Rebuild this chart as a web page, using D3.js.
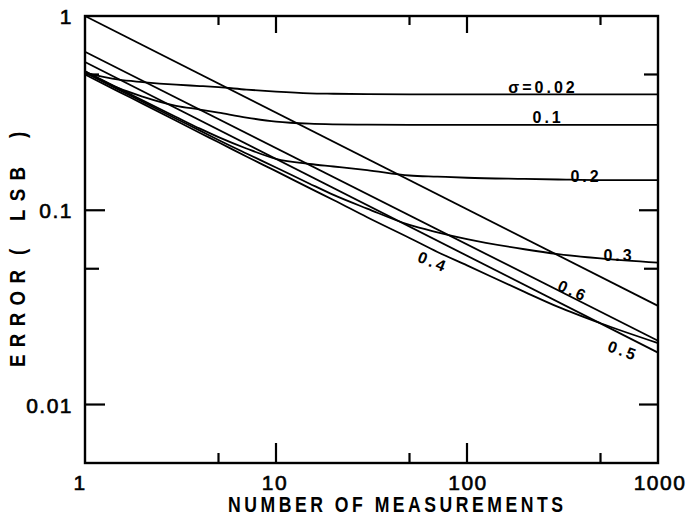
<!DOCTYPE html>
<html>
<head>
<meta charset="utf-8">
<script src="https://cdn.jsdelivr.net/npm/d3@7"></script>
<style>
  html, body { margin: 0; padding: 0; background: #fff; }
  svg { display: block; }
  text { font-family: "Liberation Sans", Arial, sans-serif; fill: #000; }
</style>
</head>
<body>
<svg id="chart" width="687" height="520"></svg>
<script>
// ---------- data ----------
const nPoints = [1, 1.5, 2, 3, 4, 5, 7, 10, 15, 20, 30, 50, 70, 100, 200, 300, 500, 1000];
const sigma002 = [0.51, 0.47, 0.457, 0.443, 0.436, 0.43, 0.418, 0.408, 0.400, 0.398, 0.396, 0.395, 0.395, 0.395, 0.395, 0.395, 0.395, 0.395];
const sigma01  = [0.52, 0.425, 0.385, 0.345, 0.330, 0.318, 0.300, 0.286, 0.279, 0.277, 0.276, 0.275, 0.275, 0.275, 0.275, 0.275, 0.275, 0.275];
const sigma02  = [0.52, 0.425, 0.368, 0.302, 0.263, 0.238, 0.208, 0.184, 0.173, 0.168, 0.161, 0.151, 0.149, 0.147, 0.145, 0.144, 0.143, 0.143];
const sigma03  = [0.51, 0.418, 0.362, 0.296, 0.257, 0.230, 0.196, 0.166, 0.137, 0.120, 0.102, 0.084, 0.077, 0.071, 0.063, 0.0595, 0.0565, 0.0537];
const sigma04  = [0.50, 0.408, 0.354, 0.289, 0.250, 0.224, 0.189, 0.159, 0.130, 0.113, 0.092, 0.072, 0.061, 0.052, 0.038, 0.0318, 0.0262, 0.0207];
// straight lines (endpoints at N = 1 and N = 1000)
const lineN    = [1, 1000];
const sigma05  = [0.58, 0.0185];
const sigma06  = [0.655, 0.0213];
const refLine  = [1.0, 0.0322];

const xTickMajor = [1, 10, 100, 1000];
const xTickMinor = [5, 50, 500];
const yTickMajor = [1, 0.1, 0.01];
const yTickMinor = [0.5, 0.05];
const xTickLabels = ["1", "10", "100", "1000"];
const yTickLabels = ["1", "0.1", "0.01"];

const curveLabels = ["σ=0.02", "0.1", "0.2", "0.3", "0.4", "0.5", "0.6"];
// label anchors in data units (N, error) and rotation
const labelN   = [250, 266, 420, 625, 66.4, 656, 359];
const labelV   = [0.431, 0.2985, 0.150, 0.0582, 0.0542, 0.0189, 0.0384];
const labelRot = [0, 0, 0, 0, 22, 20, 24];

// ---------- layout ----------
const svg = d3.select("#chart");
const x = d3.scaleLog().domain([1, 1000]).range([85, 658]);
const y = d3.scaleLog().domain([0.005, 1]).range([463, 16]);

const line = d3.line().x(d => x(d[0])).y(d => y(d[1])).curve(d3.curveMonotoneX);

const curves = [sigma002, sigma01, sigma02, sigma03, sigma04];
const g = svg.append("g");
curves.forEach(vals => {
  g.append("path")
    .attr("d", line(nPoints.map((n, i) => [n, vals[i]])))
    .attr("fill", "none").attr("stroke", "#000").attr("stroke-width", 1.8);
});
[sigma05, sigma06, refLine].forEach(vals => {
  g.append("path")
    .attr("d", line(lineN.map((n, i) => [n, vals[i]])))
    .attr("fill", "none").attr("stroke", "#000").attr("stroke-width", 1.8);
});

// frame
svg.append("rect")
  .attr("x", x(1)).attr("y", y(1))
  .attr("width", x(1000) - x(1)).attr("height", y(0.005) - y(1))
  .attr("fill", "none").attr("stroke", "#000").attr("stroke-width", 2.4);

// ticks (inward on all four sides)
const tk = svg.append("g").attr("stroke", "#000").attr("stroke-width", 2.2);
xTickMajor.slice(1, 3).forEach(v => {
  tk.append("line").attr("x1", x(v)).attr("x2", x(v)).attr("y1", y(0.005)).attr("y2", y(0.005) - 20);
  tk.append("line").attr("x1", x(v)).attr("x2", x(v)).attr("y1", y(1)).attr("y2", y(1) + 17);
});
xTickMinor.forEach(v => {
  tk.append("line").attr("x1", x(v)).attr("x2", x(v)).attr("y1", y(0.005)).attr("y2", y(0.005) - 10);
  tk.append("line").attr("x1", x(v)).attr("x2", x(v)).attr("y1", y(1)).attr("y2", y(1) + 9);
});
yTickMajor.slice(1).forEach(v => {
  tk.append("line").attr("x1", x(1)).attr("x2", x(1) + 20).attr("y1", y(v)).attr("y2", y(v));
  tk.append("line").attr("x1", x(1000)).attr("x2", x(1000) - 19).attr("y1", y(v)).attr("y2", y(v));
});
yTickMinor.forEach(v => {
  tk.append("line").attr("x1", x(1)).attr("x2", x(1) + 14).attr("y1", y(v)).attr("y2", y(v));
  tk.append("line").attr("x1", x(1000)).attr("x2", x(1000) - 14).attr("y1", y(v)).attr("y2", y(v));
});

// tick labels
const xLabelShift = [-5, -1, 1, 2];
xTickMajor.forEach((v, i) => {
  svg.append("text").attr("x", x(v) + xLabelShift[i]).attr("y", 490)
    .attr("text-anchor", "middle").attr("font-size", 21)
    .attr("stroke", "#000").attr("stroke-width", 0.6)
    .attr("letter-spacing", 1.5).text(xTickLabels[i]);
});
yTickMajor.forEach((v, i) => {
  svg.append("text").attr("x", 73).attr("y", y(v) + 8)
    .attr("text-anchor", "end").attr("font-size", 21)
    .attr("stroke", "#000").attr("stroke-width", 0.6)
    .attr("letter-spacing", 1.5).text(yTickLabels[i]);
});

// axis titles
svg.append("g").attr("transform", "translate(228,512) scale(0.8,1)")
  .append("text").attr("x", 0).attr("y", 0)
  .attr("font-size", 22).attr("font-weight", "bold")
  .attr("textLength", 335 / 0.8).attr("lengthAdjust", "spacing")
  .text("NUMBER OF MEASUREMENTS");

const yt = svg.append("g").attr("transform", "translate(25,0) rotate(-90) scale(0.85,1)");
const s = 1 / 0.85;
yt.append("text").attr("x", -367 * s).attr("y", 0).attr("font-size", 22).attr("font-weight", "bold")
  .attr("textLength", 97 * s).attr("lengthAdjust", "spacing").text("ERROR");
yt.append("text").attr("x", -255 * s).attr("y", 0).attr("font-size", 22).attr("font-weight", "bold").text("(");
yt.append("text").attr("x", -221 * s).attr("y", 0).attr("font-size", 22).attr("font-weight", "bold")
  .attr("textLength", 54 * s).attr("lengthAdjust", "spacing").text("LSB");
yt.append("text").attr("x", -138 * s).attr("y", 0).attr("font-size", 22).attr("font-weight", "bold").text(")");

// curve labels
curveLabels.forEach((t, i) => {
  svg.append("text")
    .attr("transform", `translate(${x(labelN[i])},${y(labelV[i])}) rotate(${labelRot[i]})`)
    .attr("text-anchor", "middle").attr("dominant-baseline", "central")
    .attr("font-size", 16).attr("font-weight", "bold").attr("letter-spacing", 3)
    .text(t);
});
</script>
</body>
</html>
